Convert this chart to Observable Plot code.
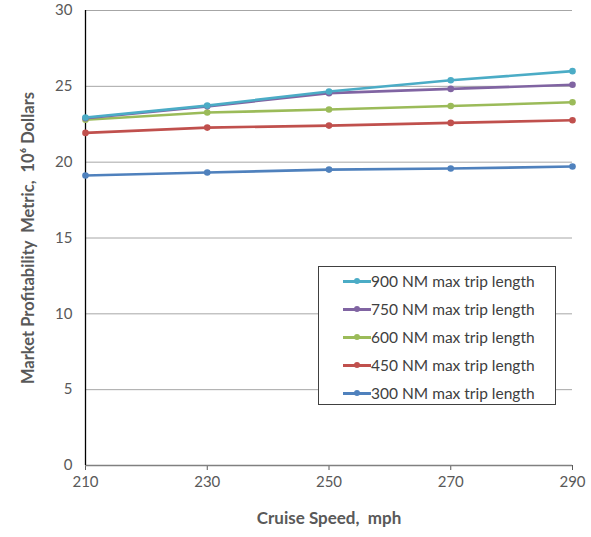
<!DOCTYPE html>
<html>
<head>
<meta charset="utf-8">
<script src="https://cdn.jsdelivr.net/npm/d3@7"></script>
<script src="https://cdn.jsdelivr.net/npm/@observablehq/plot@0.6"></script>
<style>
  html, body { margin: 0; padding: 0; background: #fff; }
  #wrap { position: relative; width: 591px; height: 537px; }
  #legend { position: absolute; left: 318px; top: 266px; width: 238px; height: 139px;
    border: 1px solid #404040; box-sizing: border-box; background: #fff;
    font-family: Lato, "Open Sans", sans-serif; font-size: 15.5px; color: #404040; }
  .row { position: absolute; left: 24px; height: 20px; display: flex; align-items: center; }
  .sw { position: relative; width: 28px; height: 20px; }
  .sw .ln { position: absolute; left: 0; top: 9px; width: 28px; height: 2.5px; }
  .sw .dt { position: absolute; left: 11px; top: 7px; width: 6px; height: 6px; border-radius: 50%; }
</style>
</head>
<body>
<div id="wrap"><div id="chart"></div><div id="legend"></div></div>
<script>
const speeds = [210, 230, 250, 270, 290];
const seriesNames = ["900 NM max trip length", "750 NM max trip length", "600 NM max trip length", "450 NM max trip length", "300 NM max trip length"];
const seriesColors = ["#4BACC6", "#8064A2", "#9BBB59", "#C0504D", "#4F81BD"];
const nm900 = [22.95, 23.73, 24.66, 25.40, 26.00];
const nm750 = [22.90, 23.68, 24.55, 24.83, 25.10];
const nm600 = [22.80, 23.27, 23.47, 23.70, 23.95];
const nm450 = [21.93, 22.28, 22.41, 22.59, 22.76];
const nm300 = [19.12, 19.32, 19.51, 19.58, 19.71];
const yTicks = [0, 5, 10, 15, 20, 25, 30];
const xTicks = [210, 230, 250, 270, 290];

const allSeries = [nm900, nm750, nm600, nm450, nm300];
const data = [];
for (let s = allSeries.length - 1; s >= 0; s--) {
  speeds.forEach((x, i) => data.push({series: seriesNames[s], speed: x, value: allSeries[s][i]}));
}

const chart = Plot.plot({
  width: 591,
  height: 537,
  marginLeft: 85,
  marginRight: 19,
  marginTop: 10,
  marginBottom: 72,
  style: {fontFamily: "Lato, 'Open Sans', sans-serif", fontSize: "14px", color: "#595959", background: "#fff"},
  x: {domain: [210, 290], ticks: xTicks, label: null},
  y: {domain: [0, 30], ticks: yTicks, label: null},
  color: {domain: seriesNames, range: seriesColors},
  marks: [
    Plot.gridY(yTicks, {stroke: "#A6A6A6", strokeOpacity: 1, strokeWidth: 1}),
    Plot.axisX({ticks: xTicks, tickSize: 5, stroke: "#595959", fontSize: 15, fill: "#595959", label: null, tickPadding: 6}),
    Plot.axisY({ticks: yTicks, tickSize: 0, fontSize: 15, fill: "#595959", label: null, tickPadding: 13}),
    Plot.ruleY([0], {stroke: "#808080", strokeWidth: 1.3}),
    Plot.ruleX([210], {stroke: "#000", strokeWidth: 1.3}),
    Plot.line(data, {x: "speed", y: "value", z: "series", stroke: "series", strokeWidth: 2.6}),
    Plot.dot(data, {x: "speed", y: "value", fill: "series", r: 3.3}),
    Plot.text(["Cruise Speed,  mph"], {frameAnchor: "bottom", dy: 58, fontSize: 17, fontWeight: "bold", fill: "#595959", textAnchor: "middle"}),
    Plot.text(["Market Profitability  Metric,  10⁶ Dollars"], {frameAnchor: "left", dx: -57, rotate: -90, textAnchor: "middle", fontSize: 16.5, fontWeight: "bold", fill: "#595959"})
  ]
});
document.getElementById("chart").appendChild(chart);

const legend = document.getElementById("legend");
seriesNames.forEach((name, i) => {
  const row = document.createElement("div");
  row.className = "row";
  row.style.top = (4 + i * 28) + "px";
  row.innerHTML = `<div class="sw"><div class="ln" style="background:${seriesColors[i]}"></div><div class="dt" style="background:${seriesColors[i]}"></div></div><span>${name}</span>`;
  legend.appendChild(row);
});
</script>
</body>
</html>
